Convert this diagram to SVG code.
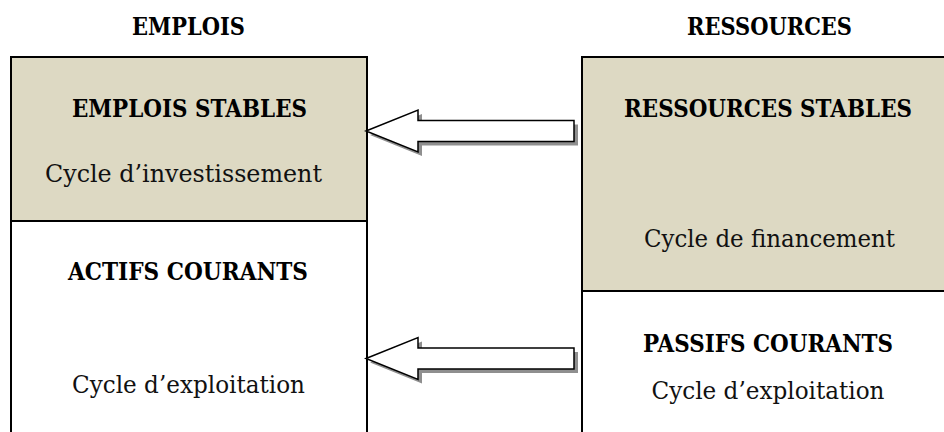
<svg xmlns="http://www.w3.org/2000/svg" width="944" height="432" viewBox="0 0 944 432">
<style>
  .hdr { font-family: "DejaVu Serif", "Liberation Serif", serif; font-size: 25px; font-weight: bold; fill: #000; text-anchor: middle; }
  .ttl { font-family: "DejaVu Serif", "Liberation Serif", serif; font-size: 25px; font-weight: bold; fill: #000; text-anchor: middle; }
  .sub { font-family: "DejaVu Serif", "Liberation Serif", serif; font-size: 25px; fill: #111; text-anchor: middle; }
  .beige { fill: #DDD9C3; stroke: #000; stroke-width: 2; }
  .white { fill: #FFFFFF; stroke: #000; stroke-width: 2; }
  .arrow { fill: #FFFFFF; stroke: #000; stroke-width: 1.5; stroke-linejoin: miter; }
  .shadow { fill: #8f8f8f; }
</style>
<defs>
  <path id="blockArrow" d="M0,0 L52,-21 L52,-10.5 L208,-10.5 L208,10.5 L52,10.5 L52,21 Z"/>
</defs>
<rect width="944" height="432" fill="#FFFFFF"/>

<g id="header-emplois">
  <text class="hdr" x="188.5" y="35" textLength="113" lengthAdjust="spacingAndGlyphs">EMPLOIS</text>
</g>
<g id="header-ressources">
  <text class="hdr" x="769.5" y="35" textLength="165" lengthAdjust="spacingAndGlyphs">RESSOURCES</text>
</g>

<g id="emplois-stables">
  <rect class="beige" x="11" y="57" width="356" height="164"/>
  <text class="ttl" x="189.5" y="117" textLength="235" lengthAdjust="spacingAndGlyphs">EMPLOIS STABLES</text>
  <text class="sub" x="183.5" y="182" textLength="277" lengthAdjust="spacingAndGlyphs">Cycle d’investissement</text>
</g>

<g id="actifs-courants">
  <rect class="white" x="11" y="221" width="356" height="220"/>
  <text class="ttl" x="188" y="280" textLength="240" lengthAdjust="spacingAndGlyphs">ACTIFS COURANTS</text>
  <text class="sub" x="188.5" y="393" textLength="233" lengthAdjust="spacingAndGlyphs">Cycle d’exploitation</text>
</g>

<g id="ressources-stables">
  <rect class="beige" x="582" y="57" width="370" height="234"/>
  <text class="ttl" x="768" y="117" textLength="288" lengthAdjust="spacingAndGlyphs">RESSOURCES STABLES</text>
  <text class="sub" x="769.5" y="247" textLength="251" lengthAdjust="spacingAndGlyphs">Cycle de financement</text>
</g>

<g id="passifs-courants">
  <rect class="white" x="582" y="291" width="370" height="150"/>
  <text class="ttl" x="768" y="352" textLength="250" lengthAdjust="spacingAndGlyphs">PASSIFS COURANTS</text>
  <text class="sub" x="768" y="399" textLength="233" lengthAdjust="spacingAndGlyphs">Cycle d’exploitation</text>
</g>

<g id="connectors">
  <g id="arrow-stables" transform="translate(366,131)">
    <use href="#blockArrow" class="shadow" transform="translate(4,4)"/>
    <use href="#blockArrow" class="arrow"/>
  </g>
  <g id="arrow-courants" transform="translate(366,358.5)">
    <use href="#blockArrow" class="shadow" transform="translate(4,4)"/>
    <use href="#blockArrow" class="arrow"/>
  </g>
</g>
</svg>
